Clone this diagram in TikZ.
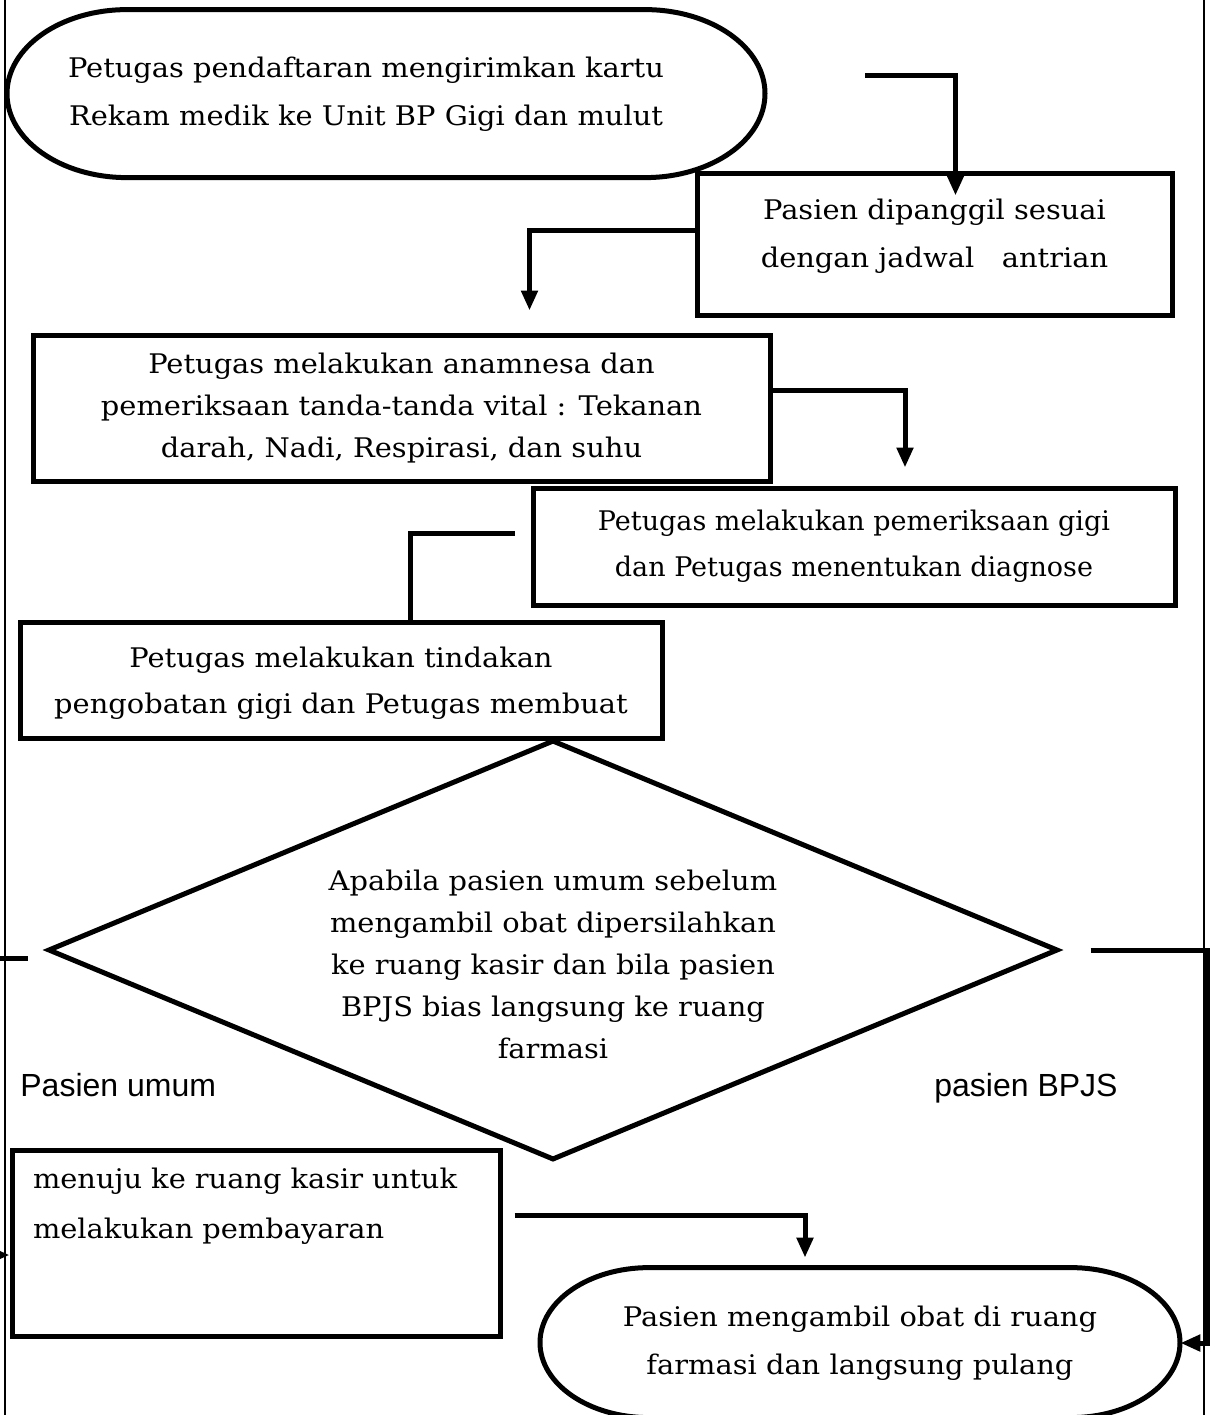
\documentclass[tikz,border=0pt]{standalone}
\usepackage{fontspec}
\setmainfont{DejaVu Serif}[FakeStretch=1.07]
\newfontfamily\plainserif{DejaVu Serif}
\newfontfamily\arialfont{Liberation Sans}
\usetikzlibrary{shapes.geometric, arrows.meta}

\tikzset{
  box/.style={draw, line width=2.5pt, rectangle, align=center, inner sep=0pt, font=\fontsize{13.5}{23}\selectfont},
  conn/.style={line width=2.5pt},
  lbl/.style={inner sep=0pt, font=\arialfont\fontsize{16}{18}\selectfont},
}

\begin{document}
\begin{tikzpicture}[x=0.5pt, y=-0.5pt, >={Triangle[length=10pt, width=8pt]}]
\useasboundingbox (0,0) rectangle (1210,1415);
\clip (0,0) rectangle (1210,1415);

% page edges
\draw[line width=1pt] (5,0) -- (5,1415);
\draw[line width=1pt] (1204,0) -- (1204,1415);

% start / end ovals
\node[align=center, minimum width=379pt, minimum height=84pt, font=\fontsize{13.5}{24}\selectfont] (start) at (366,94) {Petugas pendaftaran mengirimkan kartu\\Rekam medik ke Unit BP Gigi dan mulut};
\draw[conn] ([xshift=10pt]start.north) ++(-129.5pt,0pt) -- ++(259pt,0pt) arc[start angle=90, end angle=-90, x radius=60pt, y radius=42pt] -- ++(-259pt,0pt) arc[start angle=270, end angle=90, x radius=60pt, y radius=42pt] -- cycle;

\node[align=center, minimum width=320pt, minimum height=75pt, font=\fontsize{13.5}{24}\selectfont] (finish) at (860,1343) {Pasien mengambil obat di ruang\\farmasi dan langsung pulang};
\draw[conn] (finish.north) ++(-105.5pt,0pt) -- ++(211pt,0pt) arc[start angle=90, end angle=-90, x radius=54.5pt, y radius=37.5pt] -- ++(-211pt,0pt) arc[start angle=270, end angle=90, x radius=54.5pt, y radius=37.5pt] -- cycle;

% process boxes
\node[box, minimum width=237.5pt, minimum height=71pt, text depth=11pt, font=\fontsize{13.5}{24}\selectfont] (call) at (934.5,244) {Pasien dipanggil sesuai\\dengan jadwal \ \ antrian};
\node[box, minimum width=368.5pt, minimum height=73pt, font=\fontsize{13.5}{21}\selectfont] (anam) at (401.5,408) {Petugas melakukan anamnesa dan\\pemeriksaan tanda-tanda vital : Tekanan\\darah, Nadi, Respirasi, dan suhu};
\node[box, minimum width=321pt, minimum height=58.5pt, font=\plainserif\fontsize{13.5}{23}\selectfont] (exam) at (854,546.5) {Petugas melakukan pemeriksaan gigi\\dan Petugas menentukan diagnose};
\node[box, minimum width=321pt, minimum height=58pt, text depth=0pt] (treat) at (341,680) {Petugas melakukan tindakan\\pengobatan gigi dan Petugas membuat};
\node[box, align=left, text width=223pt, inner xsep=10.5pt, inner ysep=6.5pt, minimum height=93pt, text depth=65pt, font=\fontsize{13.5}{25}\selectfont] (kasir) at (256,1243) {menuju ke ruang kasir untuk\\melakukan pembayaran};

% decision
\node[draw, diamond, line width=2.5pt, aspect=2.4, inner sep=0pt, minimum width=505pt, minimum height=210pt, align=center, text height=109pt, font=\fontsize{13.5}{21}\selectfont] (choice) at (553,950) {Apabila pasien umum sebelum\\mengambil obat dipersilahkan\\ke ruang kasir dan bila pasien\\BPJS bias langsung ke ruang\\farmasi};

\node[lbl, anchor=base west] (umum) at (20,1096) {Pasien umum};
\node[lbl, anchor=base east] (bpjs) at (1118,1096) {pasien BPJS};

% connectors
\draw[conn, ->] ([xshift=60pt, yshift=9.5pt]start.east) -| ([xshift=10.5pt, yshift=-12.5pt]call.north);
\draw[conn, ->] ([yshift=7pt]call.west) -| ([xshift=64pt, yshift=11pt]anam.north);
\draw[conn, ->] ([yshift=9pt]anam.east) -| ([xshift=25.5pt, yshift=9pt]exam.north);
\draw[conn] ([xshift=-8pt, yshift=6.75pt]exam.west) -| ([xshift=34.5pt]treat.north);
\draw[conn, ->] ([xshift=-9pt, yshift=-4pt]choice.west) -- ++(-33,0) |- ([yshift=-6pt]kasir.west);
\draw[conn, ->] ([xshift=6pt, yshift=14pt]kasir.east) -| ([xshift=-27.5pt, yshift=5pt]finish.north);
\draw[conn, ->] ([xshift=15pt]choice.east) -- ++(117,0) |- (finish.east);
\end{tikzpicture}
\end{document}
